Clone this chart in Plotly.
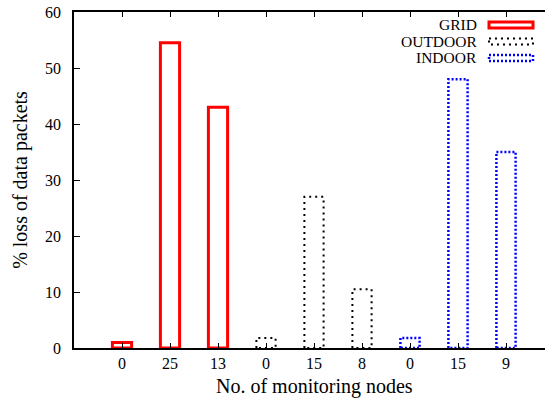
import plotly.graph_objects as go

# ---- data ----
tick_labels = ["0", "25", "13", "0", "15", "8", "0", "15", "9"]
grid_pos = [0, 1, 2]
grid_vals = [1.0, 54.5, 43.0]
outdoor_pos = [3, 4, 5]
outdoor_vals = [1.8, 27.0, 10.5]
indoor_pos = [6, 7, 8]
indoor_vals = [1.8, 48.0, 35.0]
series_names = ["GRID", "OUTDOOR", "INDOOR"]
x_title = "No. of monitoring nodes"
y_title = "% loss of data packets"

BAR_HALF = 0.2
FONT = "Liberation Serif"


def outline(pos, vals):
    xs, ys = [], []
    for p, v in zip(pos, vals):
        xs += [p - BAR_HALF, p - BAR_HALF, p + BAR_HALF, p + BAR_HALF, p - BAR_HALF, None]
        ys += [0, v, v, 0, 0, None]
    return xs, ys


styles = [
    dict(color="#ff0000", width=3, dash="solid"),
    dict(color="#000000", width=2, dash="2px,4px"),
    dict(color="#0000ff", width=2.5, dash="2px,2px"),
]

fig = go.Figure()
for name, pos, vals, st in zip(series_names,
                               [grid_pos, outdoor_pos, indoor_pos],
                               [grid_vals, outdoor_vals, indoor_vals],
                               styles):
    xs, ys = outline(pos, vals)
    fig.add_trace(go.Scatter(x=xs, y=ys, mode="lines", name=name,
                             line=st, showlegend=False, hoverinfo="skip"))

W, H = 545, 399
L, R, T, B = 74, 0, 12, 51
pw, ph = W - L - R, H - T - B


def px_x(px):
    return (px - L) / pw


def px_y(py):
    return (H - B - py) / ph


# legend drawn as text + sample boxes (sample to the right of text)
legend_y = [25, 41.5, 58]
for name, st, yc in zip(series_names, styles, legend_y):
    fig.add_annotation(x=px_x(479), y=px_y(yc), xref="paper", yref="paper",
                       text=name, showarrow=False, xanchor="right", yanchor="middle",
                       font=dict(family=FONT, size=15.5, color="black"))
    fig.add_shape(type="rect", xref="paper", yref="paper",
                  x0=px_x(489), x1=px_x(533), y0=px_y(yc - 3), y1=px_y(yc + 3),
                  line=st, fillcolor="rgba(0,0,0,0)")

# x-axis title, as low as it can sit without being cut
fig.add_annotation(x=px_x(314), y=px_y(H), xref="paper", yref="paper",
                   text=x_title, showarrow=False, xanchor="center", yanchor="bottom",
                   borderpad=0,
                   font=dict(family=FONT, size=20, color="black"))

fig.update_layout(
    width=W, height=H,
    margin=dict(l=L, r=R, t=T, b=B, pad=0),
    paper_bgcolor="white", plot_bgcolor="white",
    font=dict(family=FONT, size=16, color="black"),
    showlegend=False,
)
fig.update_xaxes(
    range=[-1, -1 + pw / 48.0],
    tickvals=list(range(len(tick_labels))), ticktext=tick_labels,
    ticks="inside", ticklen=5, tickwidth=1, tickcolor="black",
    showline=True, linecolor="black", linewidth=1.5, mirror="ticks",
    showgrid=False, zeroline=False,
    tickfont=dict(family=FONT, size=16),
)
fig.update_yaxes(
    range=[0, 60], tickvals=[0, 10, 20, 30, 40, 50, 60],
    ticks="inside", ticklen=6, tickwidth=1, tickcolor="black",
    showline=True, linecolor="black", linewidth=1.5, mirror=False,
    showgrid=False, zeroline=False, ticklabelstandoff=8,
    title=dict(text=y_title, font=dict(family=FONT, size=20), standoff=12),
    tickfont=dict(family=FONT, size=16),
)

fig.write_html("out.html",
               config={"displayModeBar": False},
               post_script="document.body.style.margin='0';document.body.style.overflow='hidden';")
